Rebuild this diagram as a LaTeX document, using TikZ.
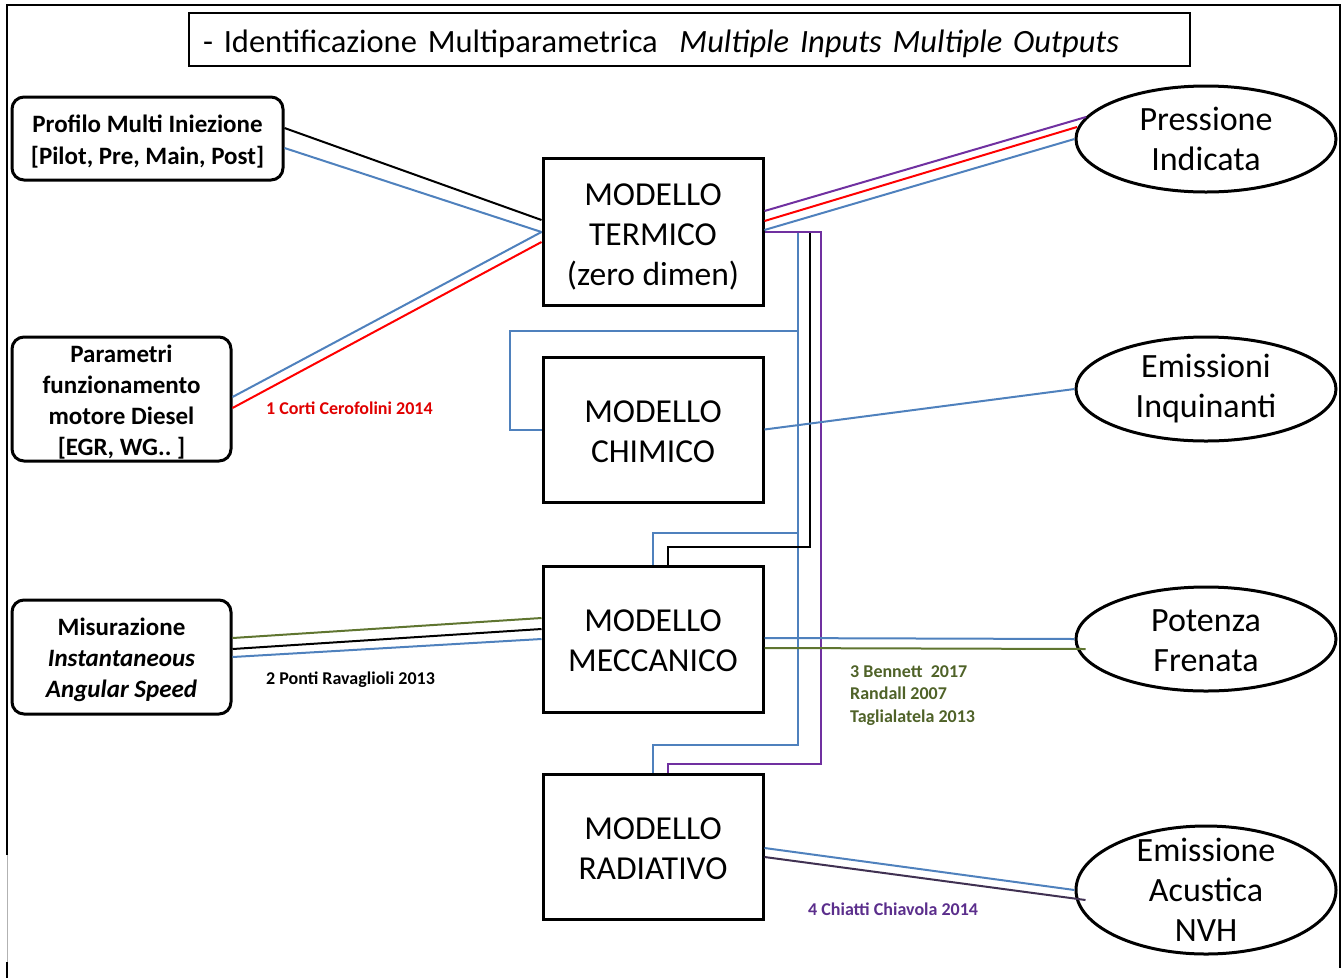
\documentclass[tikz,border=0pt]{standalone}
\usepackage{fontspec}
\setmainfont{Carlito}
\usetikzlibrary{shapes.geometric,calc}
\definecolor{lblue}{HTML}{4F81BD}
\definecolor{lred}{HTML}{FF0000}
\definecolor{lpurple}{HTML}{7030A0}
\definecolor{lolive}{HTML}{5F7530}
\definecolor{tolive}{HTML}{4F6228}
\definecolor{dpurple}{HTML}{403152}
\definecolor{tred}{HTML}{E00000}
\definecolor{tpurple}{HTML}{5B2E8C}
\newcommand{\topstrut}[1]{\rule{0pt}{#1}}
\begin{document}
\begin{tikzpicture}[x=1pt,y=-1pt,
 conn/.style={line width=2pt},
 inbox/.style={draw,line width=3pt,rounded corners=12pt,inner sep=0pt,align=center,font=\fontsize{25}{31}\selectfont\bfseries},
 model/.style={draw,line width=3pt,inner sep=0pt,minimum width=220pt,align=center,font=\fontsize{33.5}{40}\selectfont},
 outell/.style={draw,ellipse,line width=3pt,inner sep=0pt,minimum width=260pt,align=center,font=\fontsize{34}{40}\selectfont},
 refl/.style={anchor=west,inner sep=0pt,font=\fontsize{18}{22.5}\selectfont\bfseries,align=left}]
\useasboundingbox (0,0) rectangle (1344,978);
% frame
\draw[line width=2.5pt] (7,855) -- (7,5) -- (1340,5) -- (1340,968);
\draw[gray!60,line width=1pt] (7,855) -- (7,962);
\draw[line width=2.5pt] (7,962) -- (7,978);
% title
\node[draw,line width=1.5pt,minimum width=1001pt,minimum height=53pt,inner xsep=14pt,inner ysep=0pt,text width=973pt,text height=30pt,text depth=5pt,align=left,font=\fontsize{32.5}{38}\selectfont] (title) at (689.5,39.5) {- Identificazione Multiparametrica\ \ \textit{Multiple Inputs Multiple Outputs}};
% inputs
\node[inbox,minimum width=271pt,minimum height=83pt] (prof) at (147.5,138.5) {\topstrut{24pt}Profilo Multi Iniezione\\[1pt]\relax [Pilot, Pre, Main, Post]};
\node[inbox,minimum width=219pt,minimum height=124pt] (param) at (121.5,399) {\topstrut{24pt}Parametri\\ funzionamento\\ motore Diesel\\\relax [EGR, WG..\ ]};
\node[inbox,minimum width=219pt,minimum height=114pt] (misur) at (121.5,657) {\topstrut{24pt}Misurazione\\ \textit{Instantaneous}\\ \textit{Angular Speed}};
% models
\node[model,minimum height=147pt] (term) at (653,231.5) {\topstrut{32pt}MODELLO\\ TERMICO\\ (zero dimen)};
\node[model,minimum height=145pt] (chim) at (653,429.5) {\topstrut{26pt}MODELLO\\ CHIMICO};
\node[model,minimum height=146pt] (mecc) at (653,639) {\topstrut{25pt}MODELLO\\ MECCANICO};
\node[model,minimum height=145pt] (rad) at (653,846.5) {\topstrut{27pt}MODELLO\\ RADIATIVO};
% outputs
\node[outell,minimum height=106pt] (press) at (1206,139) {Pressione\\ Indicata};
\node[outell,minimum height=104pt] (emis) at (1206,389) {Emissioni\\ Inquinanti};
\node[outell,minimum height=104pt] (pot) at (1206,639) {\topstrut{25pt}Potenza\\ Frenata};
\node[outell,minimum height=128pt,inner ysep=-20pt] (acu) at (1206,890) {Emissione\\ Acustica\\ NVH};
% inputs -> termico
\draw[conn] ($(prof.east)+(0,-10.5)$) -- ($(term.west)+(0,-11.5)$);
\draw[conn,lblue] ($(prof.east)+(0,9.5)$) -- ($(term.west)+(0,0.5)$);
\draw[conn,lblue] ($(param.east)+(0,-2)$) -- ($(term.west)+(0,0.5)$);
\draw[conn,lred] ($(param.east)+(0,9)$) -- ($(term.west)+(0,10.5)$);
% termico -> pressione
\draw[conn,lpurple] ($(term.east)+(0,-20.5)$) -- ($(press.center)+(-120,-22)$);
\draw[conn,lred] ($(term.east)+(0,-10.5)$) -- ($(press.center)+(-129,-12)$);
\draw[conn,lblue] ($(term.east)+(0,-1.5)$) -- (press.west);
% trunks
\coordinate (tj) at ($(term.east)+(0,0.5)$);
\coordinate (bt) at ($(tj)+(33,0)$);
\draw[conn,lblue] (bt) -- ++(0,513) -| (rad.north);
\draw[conn,lblue] ($(bt)+(0,99)$) -| ($(chim.west)+(-32,0)$) -- (chim.west);
\draw[conn,lblue] ($(bt)+(0,301)$) -| (mecc.north);
\draw[conn] ($(tj)+(45,0)$) -- ++(0,315) -| ($(mecc.north)+(15,0)$);
\draw[conn,lpurple] (tj) -- ++(56,0) -- ++(0,531.5) -| ($(rad.north)+(15,0)$);
% chimico -> emissioni
\draw[conn,lblue] (chim.east) -- (emis.west);
% misurazione -> meccanico
\draw[conn,lolive] ($(misur.east)+(0,-19)$) -- ($(mecc.west)+(0,-21)$);
\draw[conn] ($(misur.east)+(0,-8)$) -- ($(mecc.west)+(0,-10)$);
\draw[conn,lblue] (misur.east) -- (mecc.west);
% meccanico -> potenza
\draw[conn,lblue] ($(mecc.east)+(0,-1)$) -- (pot.west);
\draw[conn,lolive] ($(mecc.east)+(0,9)$) -- ($(pot.west)+(11,10)$);
% radiativo -> acustica
\draw[conn,lblue] ($(rad.east)+(0,1.5)$) -- (acu.west);
\draw[conn,dpurple] ($(rad.east)+(0,10.5)$) -- ($(acu.west)+(11,10)$);
% references
\node[refl,text=tred] (l1) at (266,408) {1 Corti Cerofolini 2014};
\node[refl] (l2) at (266,680) {2 Ponti Ravaglioli 2013};
\node[refl,text=tolive,anchor=north west] (l3) at (850,665) {3 Bennett\ \ 2017\\ Randall 2007\\ Taglialatela 2013};
\node[refl,text=tpurple] (l4) at (808,909) {4 Chiatti Chiavola 2014};
\end{tikzpicture}
\end{document}
